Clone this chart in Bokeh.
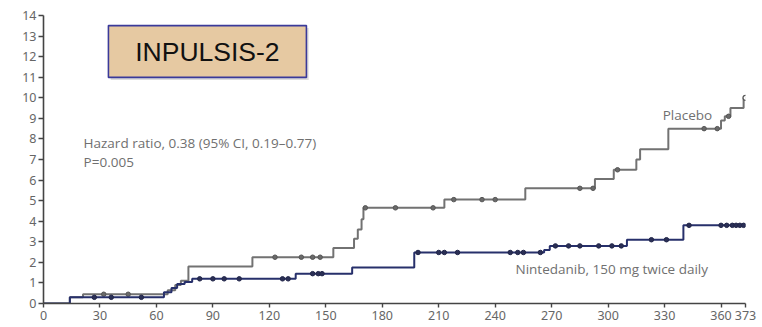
from bokeh.plotting import figure
from bokeh.models import Range1d, FixedTicker
from bokeh.core.properties import value
from bokeh.embed import file_html
from bokeh.resources import INLINE

# ---- data (days, cumulative incidence %) ----
placebo_t = [0, 14, 21, 66, 70, 73, 77, 111, 154, 165, 167, 169, 170, 213, 256, 293, 303,
             315, 317, 332, 360, 362, 365, 372, 373]
placebo_v = [0, 0.3, 0.45, 0.65, 0.9, 1.1, 1.8, 2.25, 2.7, 3.15, 3.6, 4.1, 4.65, 5.05, 5.6,
             6.05, 6.5, 7.0, 7.5, 8.5, 8.9, 9.1, 9.5, 10.0, 10.0]
placebo_cens_t = [32, 45, 123, 137, 143, 147, 171, 187, 207, 218, 233, 240, 285, 292, 305,
                  351, 358, 364]
placebo_cens_v = [0.45, 0.45, 2.25, 2.25, 2.25, 2.25, 4.65, 4.65, 4.65, 5.05, 5.05, 5.05,
                  5.6, 5.6, 6.5, 8.5, 8.5, 9.1]
placebo_end_t = [373]
placebo_end_v = [10.0]

nint_t = [0, 14, 64, 68, 71, 75, 79, 134, 164, 197, 266, 269, 310, 340, 373]
nint_v = [0, 0.3, 0.55, 0.75, 0.95, 1.05, 1.2, 1.45, 1.75, 2.48, 2.6, 2.8, 3.1, 3.8, 3.8]
nint_cens_t = [27, 36, 52, 83, 90, 96, 104, 127, 130, 143, 146, 148, 199, 210, 213, 220,
               248, 252, 255, 264, 272, 279, 285, 295, 302, 307, 323, 331, 343, 360, 363,
               366, 368, 370, 372]
nint_cens_v = [0.3, 0.3, 0.3, 1.2, 1.2, 1.2, 1.2, 1.2, 1.2, 1.45, 1.45, 1.45, 2.48, 2.48,
               2.48, 2.48, 2.48, 2.48, 2.48, 2.48, 2.8, 2.8, 2.8, 2.8, 2.8, 2.8, 3.1, 3.1,
               3.8, 3.8, 3.8, 3.8, 3.8, 3.8, 3.8]

x_ticks = [0, 30, 60, 90, 120, 150, 180, 210, 240, 270, 300, 330, 360, 373]
y_ticks = list(range(0, 15))

title_text = "INPULSIS-2"
hr_text = "Hazard ratio, 0.38 (95% CI, 0.19\u20130.77)"
p_text = "P=0.005"
placebo_label = "Placebo"
nint_label = "Nintedanib, 150 mg twice daily"

# ---- figure ----
p = figure(width=760, height=325, output_backend="svg", toolbar_location=None,
           x_range=Range1d(0, 373), y_range=Range1d(0, 14),
           min_border_left=43, min_border_right=15, min_border_top=15, min_border_bottom=22)
p.outline_line_color = None
p.xgrid.visible = False
p.ygrid.visible = False
p.background_fill_color = "white"

for ax in (p.xaxis, p.yaxis):
    ax.axis_line_color = "#444444"
    ax.axis_line_width = 1.6
    ax.major_tick_line_color = "#444444"
    ax.major_tick_line_width = 1.4
    ax.minor_tick_line_color = None
    ax.major_tick_in = 0
    ax.major_label_text_font = "Noto Sans"
    ax.major_label_text_font_size = "12.5px"
    ax.major_label_text_color = "#666666"

p.xaxis.ticker = FixedTicker(ticks=x_ticks)
p.yaxis.ticker = FixedTicker(ticks=y_ticks)
p.xaxis.major_tick_out = 4
p.yaxis.major_tick_out = 5
p.xaxis.major_label_standoff = 3
p.yaxis.major_label_standoff = 2

# ---- curves ----
p.step(placebo_t, placebo_v, mode="after", line_color="#727272", line_width=2)
p.scatter(placebo_cens_t, placebo_cens_v, size=4.5, marker="circle",
          fill_color="#6a6a6a", line_color="#555555")
p.scatter(placebo_end_t, placebo_end_v, size=5, marker="circle",
          fill_color="white", line_color="#555555", line_width=1.2)

p.step(nint_t, nint_v, mode="after", line_color="#27306b", line_width=2)
p.scatter(nint_cens_t, nint_cens_v, size=4.5, marker="circle",
          fill_color="#2a2f55", line_color="#22264a")

# ---- annotations ----
box_l, box_r, box_b, box_t = 34.5, 139.7, 10.99, 13.51
p.quad(left=[box_l + 1.2], right=[box_r + 1.2], bottom=[box_b - 0.12], top=[box_t - 0.12],
       fill_color="#cfcfcf", line_color=None, fill_alpha=0.7)
p.quad(left=[box_l], right=[box_r], bottom=[box_b], top=[box_t],
       fill_color="#e6c9a2", line_color="#3a3a9a", line_width=1.6)
p.text(x=[(box_l + box_r) / 2], y=[(box_b + box_t) / 2], text=[title_text],
       text_font=value("Liberation Sans"), text_font_size="26.5px", text_color="#111111",
       text_align="center", text_baseline="middle")

note_font = value("Open Sans")
note_size = "13.5px"
p.text(x=[21.3], y=[7.78], text=[hr_text], text_font=note_font, text_font_size=note_size,
       text_color="#707070", text_align="left", text_baseline="middle")
p.text(x=[21.3], y=[6.9], text=[p_text], text_font=note_font, text_font_size=note_size,
       text_color="#707070", text_align="left", text_baseline="middle")
p.text(x=[329], y=[9.14], text=[placebo_label], text_font=note_font, text_font_size=note_size,
       text_color="#707070", text_align="left", text_baseline="middle")
p.text(x=[250.8], y=[1.7], text=[nint_label], text_font=note_font, text_font_size=note_size,
       text_color="#707070", text_align="left", text_baseline="middle")

open("out.html", "w").write(file_html(p, INLINE))
